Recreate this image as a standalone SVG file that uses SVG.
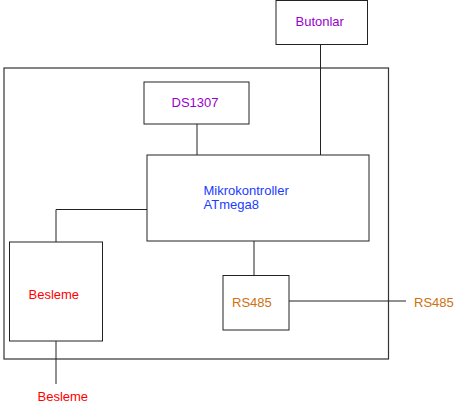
<svg xmlns="http://www.w3.org/2000/svg" width="454" height="403" viewBox="0 0 454 403">
<style>
.box{fill:#fff;stroke:#222;stroke-width:1}
.outer{fill:none;stroke:#333;stroke-width:1.2}
.ln{fill:none;stroke:#222;stroke-width:1}
text{font-family:"Liberation Sans",Arial,sans-serif;font-size:13px}
.pu{fill:#9900CC}.bl{fill:#1a3cff}.rd{fill:#ff0000}.or{fill:#d07010}
</style>
<rect x="0" y="0" width="454" height="403" fill="#fff"/>
<g id="outer"><rect class="outer" x="4" y="68" width="384.5" height="291"/></g>
<g id="connectors">
<path class="ln" d="M320.5 44.5V155"/>
<path class="ln" d="M197 124V155"/>
<path class="ln" d="M147 209.5H56V242"/>
<path class="ln" d="M254 241V275"/>
<path class="ln" d="M289 301H406"/>
<path class="ln" d="M56 341V384"/>
</g>
<g id="butonlar"><rect class="box" x="276" y="0.5" width="91.5" height="44"/><text class="pu" x="295.5" y="26">Butonlar</text></g>
<g id="ds1307"><rect class="box" x="144" y="82" width="105" height="42"/><text class="pu" x="171.5" y="107">DS1307</text></g>
<g id="mcu"><rect class="box" x="147" y="155" width="222" height="86"/><text class="bl" x="203.5" y="194.5">Mikrokontroller</text><text class="bl" x="203.5" y="209">ATmega8</text></g>
<g id="besleme"><rect class="box" x="9.5" y="242" width="93" height="99"/><text class="rd" x="28.5" y="299">Besleme</text></g>
<g id="rs485"><rect class="box" x="223" y="275.5" width="66" height="54.5"/><text class="or" x="232" y="306.5">RS485</text></g>
<g id="rs485-out"><text class="or" x="414" y="306.5">RS485</text></g>
<g id="besleme-out"><text class="rd" x="37.5" y="400.5">Besleme</text></g>
</svg>
